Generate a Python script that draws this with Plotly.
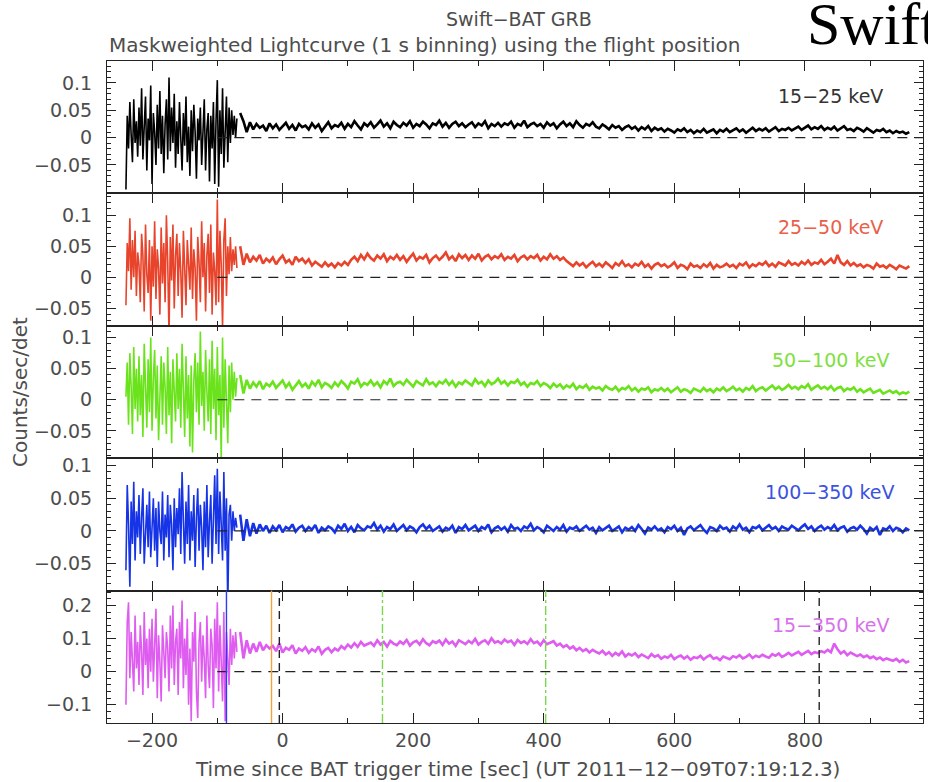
import numpy as np
import plotly.graph_objects as go
from plotly.subplots import make_subplots

# Time grid (s since BAT trigger): finer while the background is noisy, coarser afterwards
t_early = np.arange(-240, -69, 2)   # -240 ... -70
t_late = np.arange(-65, 961, 5)     # -65 ... 960

# Count rates in units of 1e-3 counts/sec/det
rate_15_25_early = [
    -95, 40, -20, 65, 5, -45, 70, -10, 30, -35,
    55, -15, 90, -40, 20, 75, -60, 35, -5, 95,
    -85, 45, 10, -50, 60, -20, 85, -30, 40, -65,
    25, 70, -40, 110, -25, 55, -10, 80, -55, 30,
    -30, 65, 0, -60, 45, -15, 75, -45, 20, -70,
    50, -25, 60, 10, -75, 35, -5, 55, -50, 25,
    70, -60, 15, 45, -80, 40, -20, 65, -85, 30,
    105, -90, 50, -30, 90, -55, 20, 75, -45, 55,
    -10, 50, 5, 40, 0, 35]
rate_15_25_late = [
    45, 30, 10, 28, 15, 25, 18, 22, 12, 26,
    17, 24, 14, 21, 27, 16, 23, 13, 25, 19,
    22, 15, 26, 18, 24, 12, 21, 28, 17, 23,
    20, 27, 16, 25, 19, 30, 22, 15, 26, 21,
    28, 18, 24, 31, 20, 26, 17, 29, 23, 19,
    27, 22, 30, 18, 25, 21, 29, 24, 17, 26,
    23, 31, 20, 27, 18, 25, 29, 21, 26, 19,
    24, 28, 19, 26, 22, 30, 17, 25, 21, 27,
    20, 26, 23, 29, 18, 25, 22, 31, 19, 24,
    27, 21, 25, 18, 28, 22, 26, 17, 24, 29,
    21, 26, 19, 30, 23, 18, 25, 22, 28, 20,
    17, 24, 20, 15, 23, 18, 21, 14, 19, 22,
    16, 20, 13, 19, 15, 21, 12, 18, 14, 17,
    11, 16, 13, 9, 15, 12, 17, 10, 14, 8,
    13, 10, 16, 9, 12, 15, 8, 14, 11, 16,
    10, 13, 17, 11, 15, 9, 14, 18, 12, 16,
    13, 17, 11, 15, 19, 12, 16, 14, 18, 13,
    17, 20, 14, 18, 22, 15, 19, 16, 21, 14,
    18, 15, 20, 13, 17, 21, 14, 16, 12, 18,
    15, 11, 17, 13, 9, 14, 12, 16, 10, 13,
    8, 12, 9, 11, 7, 10]

rate_25_50_early = [
    -45, 55, 10, 95, -20, 60, 0, 75, -30, 40,
    20, -40, 70, 35, -55, 85, 5, -25, 60, -70,
    50, -15, 90, -35, 45, 15, -60, 80, -10, 55,
    -40, 100, 25, -95, 65, -5, 85, -50, 35, 70,
    -30, 55, 10, -65, 75, 20, -45, 60, 5, -20,
    80, -35, 45, 15, -70, 65, 25, -40, 90, 0,
    55, -55, 35, 70, -25, 85, -60, 40, 10, -45,
    125, -40, 75, 20, -80, 60, 95, -30, 50, 5,
    65, 10, 45, 20, 50, 15]
rate_25_50_late = [
    50, 20, 38, 24, 33, 27, 36, 22, 30, 25,
    32, 21, 29, 35, 24, 28, 20, 33, 26, 30,
    23, 29, 19, 25, 21, 17, 24, 18, 22, 16,
    23, 19, 25, 20, 28, 33, 26, 36, 29, 38,
    31, 27, 35, 30, 37, 26, 33, 29, 36, 28,
    34, 25, 32, 38, 27, 33, 30, 36, 24, 31,
    35, 28, 33, 40, 29, 34, 26, 37, 31, 36,
    28, 35, 30, 38, 27, 33, 36, 29, 34, 31,
    37, 28, 33, 30, 36, 26, 32, 35, 29, 34,
    31, 36, 27, 33, 29, 37, 30, 34, 28, 32,
    26, 22, 18, 24, 19, 23, 16, 21, 25, 18,
    22, 17, 24, 20, 15, 23, 19, 26, 18, 21,
    16, 22, 19, 25, 17, 21, 14, 20, 23, 18,
    21, 16, 19, 24, 15, 20, 18, 13, 22, 17,
    19, 15, 21, 17, 23, 14, 20, 16, 18, 22,
    17, 20, 15, 22, 19, 24, 16, 21, 18, 23,
    20, 25, 18, 22, 17, 24, 21, 19, 26, 20,
    23, 19, 25, 21, 27, 20, 24, 22, 28, 21,
    25, 30, 22, 36, 24, 20, 26, 19, 23, 18,
    21, 16, 20, 18, 14, 22, 17, 19, 15, 20,
    17, 13, 19, 16, 14, 18]

rate_50_100_early = [
    5, 60, -40, 75, 20, -55, 85, -15, 50, -35,
    70, -25, 40, -60, 90, 10, -45, 65, -20, 100,
    -50, 35, 80, -30, 55, -65, 15, 70, -40, 60,
    20, -55, 85, -25, 45, -70, 65, 5, -35, 75,
    -15, 50, -45, 90, 0, -60, 70, -30, 40, -75,
    55, -85, 30, 75, -20, 60, -40, 110, -10, 45,
    -50, 80, 15, -35, 65, -55, 95, -15, 50, -65,
    85, -25, 40, -95, 100, -45, 65, 10, -70, 55,
    -20, 60, 0, 45, 5, 35]
rate_50_100_late = [
    40, 10, 32, 18, 28, 21, 30, 17, 26, 22,
    29, 19, 25, 31, 20, 27, 16, 24, 30, 21,
    26, 18, 29, 23, 32, 20, 27, 24, 19, 28,
    22, 30, 25, 18, 29, 26, 33, 21, 27, 24,
    31, 23, 28, 20, 30, 25, 34, 22, 27, 29,
    24, 32, 26, 21, 30, 27, 23, 33, 25, 28,
    22, 29, 26, 32, 24, 30, 21, 28, 25, 31,
    27, 23, 33, 26, 29, 22, 31, 25, 28, 34,
    26, 30, 23, 29, 27, 32, 24, 28, 21, 27,
    25, 30, 22, 27, 24, 19, 26, 21, 25, 18,
    23, 20, 26, 17, 22, 19, 24, 16, 21, 18,
    20, 15, 22, 18, 16, 21, 14, 19, 17, 22,
    15, 19, 13, 18, 16, 20, 12, 17, 15, 19,
    14, 18, 12, 16, 20, 13, 17, 15, 11, 18,
    16, 13, 19, 14, 17, 12, 18, 15, 20, 14,
    17, 21, 15, 18, 13, 19, 16, 22, 14, 18,
    20, 15, 19, 23, 17, 21, 16, 19, 24, 18,
    21, 17, 22, 19, 25, 16, 20, 23, 18, 21,
    17, 22, 15, 19, 21, 14, 18, 16, 20, 13,
    17, 12, 15, 18, 11, 14, 16, 10, 13, 15,
    11, 14, 9, 12, 10, 13]

rate_100_350_early = [
    -60, 70, 10, -85, 45, -20, 75, -45, 30, -10,
    55, -35, 20, 65, -50, 5, 40, -25, 60, -40,
    15, 50, -30, 35, -55, 45, 0, -20, 60, -45,
    25, -10, 55, -40, 40, 10, -60, 50, -25, 35,
    -5, 65, -35, 90, 15, -50, 45, -20, 70, -45,
    30, -15, 55, -55, 20, 65, -30, 40, 5, -60,
    45, -25, 70, -40, 15, 55, -50, 35, 85, -20,
    95, -35, 60, 10, -45, 90, -30, 50, -120, 25,
    40, -15, 30, 0, 20, 5]
rate_100_350_late = [
    25, -15, 18, -8, 12, -4, 10, 0, 8, -3,
    7, 1, 9, -2, 6, 3, 10, -1, 5, 8,
    0, 6, 2, 9, -3, 5, 1, 7, 4, -2,
    8, 3, 11, 0, 6, -2, 9, 4, 1, 7,
    5, 12, 2, 8, -1, 6, 3, 10, 0, 5,
    9, 1, 7, 4, -2, 6, 10, 3, 8, 0,
    4, 7, -1, 5, 2, 8, -3, 6, 3, 9,
    1, 5, 8, 0, 6, 3, 10, -2, 4, 7,
    2, 6, -1, 9, 3, 5, 0, 7, 4, 11,
    1, 6, 3, -2, 8, 4, 0, 6, 2, 9,
    -1, 5, 3, 7, 0, 4, 8, 2, 5, -3,
    6, 1, 4, 8, 0, 3, 7, -2, 5, 2,
    6, 0, 9, 3, -4, 5, 2, 7, 1, 4,
    -2, 6, 3, 8, 0, 5, -6, 4, 7, 1,
    5, 9, 2, -3, 6, 4, 0, 8, 3, 5,
    -1, 7, 3, 10, 2, 5, -2, 6, 4, 8,
    1, 5, 9, 3, 6, 0, 7, 4, 2, 8,
    5, 1, 6, 10, 3, 7, 0, 5, 8, 2,
    6, 3, 9, 1, 5, 7, -1, 4, 6, 2,
    8, 3, -4, 5, 1, 6, -6, 4, 2, 7,
    0, 5, 3, -2, 4, 1]

rate_15_350_early = [
    -100, 150, 210, -20, 120, 40, -60, 170, 10, 90,
    -40, 140, 60, -70, 180, 20, 100, -50, 130, 0,
    160, -30, 80, 190, -80, 110, 30, -90, 140, 50,
    -20, 120, 70, -60, 170, 10, 200, -40, 90, 130,
    -70, 150, 40, 215, -50, 100, -10, 160, -100, 70,
    -150, 120, 30, 180, -60, -140, 90, 150, -30, 110,
    40, -80, 170, 20, -50, 130, 80, -110, 160, 10,
    210, -60, 140, 30, -90, 180, -150, 120, 50, -40,
    130, 20, 110, 40, 120, 60]
rate_15_350_late = [
    120, 40, 95, 55, 85, 60, 90, 65, 80, 70,
    78, 62, 85, 58, 72, 66, 80, 55, 70, 63,
    74, 57, 68, 61, 76, 54, 66, 72, 59, 70,
    64, 77, 69, 82, 73, 86, 75, 90, 79, 84,
    88, 78, 95, 82, 90, 76, 93, 85, 80, 91,
    84, 96, 79, 89, 93, 82, 98, 86, 80, 92,
    87, 94, 81, 97, 85, 91, 78, 95, 88, 83,
    93, 86, 99, 82, 90, 95, 84, 101, 88, 92,
    85, 97, 89, 94, 81, 96, 87, 92, 84, 98,
    86, 91, 80, 95, 83, 88, 92, 79, 85, 74,
    80, 70, 76, 65, 72, 62, 68, 58, 66, 60,
    55, 63, 52, 59, 48, 57, 50, 61, 46, 54,
    49, 56, 44, 52, 47, 41, 53, 45, 50, 39,
    46, 42, 51, 38, 45, 49, 40, 47, 36, 44,
    41, 48, 37, 45, 50, 39, 43, 35, 46, 42,
    38, 47, 43, 50, 40, 45, 52, 41, 48, 44,
    51, 46, 42, 53, 48, 55, 45, 50, 57, 49,
    54, 60, 51, 57, 63, 53, 59, 56, 62, 58,
    66, 59, 85, 68, 55, 62, 50, 58, 53, 47,
    52, 44, 49, 41, 46, 38, 43, 35, 40, 37,
    33, 39, 30, 36, 28, 32]

band_labels = ["15−25 keV", "25−50 keV", "50−100 keV", "100−350 keV", "15−350 keV"]
band_colors = ["#000000", "#e8432b", "#6be31c", "#1633e6", "#df5cf0"]
label_colors = ["#333333", "#e8604a", "#7ee040", "#3c52e0", "#d870ec"]
early_rates = [rate_15_25_early, rate_25_50_early, rate_50_100_early,
               rate_100_350_early, rate_15_350_early]
late_rates = [rate_15_25_late, rate_25_50_late, rate_50_100_late,
              rate_100_350_late, rate_15_350_late]

y_ranges = [[-0.102, 0.14], [-0.078, 0.135], [-0.094, 0.119], [-0.091, 0.111], [-0.155, 0.245]]
y_ticks = [[-0.05, 0, 0.05, 0.1]] * 4 + [[-0.1, 0, 0.1, 0.2]]
y_tick_text = [["−0.05", "0", "0.05", "0.1"]] * 4 + [["−0.1", "0", "0.1", "0.2"]]
y_minor = [0.01, 0.01, 0.01, 0.01, 0.02]

x_range = [-269, 981]
x_ticks = [-200, 0, 200, 400, 600, 800]

# Markers drawn in the summed-band panel: (time, colour, dash)
event_lines = [
    (-86, "#2a3df0", "solid"),
    (-17, "#f2a040", "solid"),
    (-5, "#222222", "8px,5px"),
    (153, "#78d850", "dashdot"),
    (403, "#78d850", "dashdot"),
    (822, "#222222", "8px,5px"),
]
zero_line_start = -100

FONT = "DejaVu Sans"
TEXT_COLOR = "#4d4d4d"
AXIS_COLOR = "#222222"

W, H = 928, 782
L, R, T, B = 107, 5, 61, 59
plot_w = W - L - R
plot_h = H - T - B


def px_x(p):
    return (p - L) / plot_w


def px_y(p):
    return (H - B - p) / plot_h


fig = make_subplots(rows=5, cols=1, shared_xaxes=True, vertical_spacing=0)

for i in range(5):
    row = i + 1
    # noisy pre-burst background and the quieter stretch afterwards
    for t, vals, lw in ((t_early, early_rates[i], 1.6), (t_late, late_rates[i], 2.6)):
        fig.add_trace(
            go.Scatter(x=t, y=np.array(vals) / 1000.0, mode="lines",
                       line=dict(color=band_colors[i], width=lw),
                       showlegend=False, hoverinfo="skip"),
            row=row, col=1,
        )
    yname = "y" if row == 1 else f"y{row}"
    xname = "x" if row == 1 else f"x{row}"
    # dashed zero level
    fig.add_shape(type="line", xref=xname, yref=yname,
                  x0=zero_line_start, x1=x_range[1], y0=0, y1=0,
                  line=dict(color=AXIS_COLOR, width=1.2, dash="10px,7px"))
    fig.update_yaxes(
        range=y_ranges[i], tickmode="array", tickvals=y_ticks[i], ticktext=y_tick_text[i],
        ticks="inside", ticklen=9, tickwidth=1.2, tickcolor=AXIS_COLOR,
        minor=dict(ticks="inside", ticklen=4, tickwidth=1, tickcolor=AXIS_COLOR,
                   tickmode="linear", tick0=0, dtick=y_minor[i]),
        showline=True, linecolor=AXIS_COLOR, linewidth=1, mirror="allticks",
        showgrid=False, zeroline=False, ticklabelstandoff=10,
        tickfont=dict(family=FONT, size=19, color=TEXT_COLOR),
        row=row, col=1,
    )
    fig.update_xaxes(
        range=x_range, tickmode="array", tickvals=x_ticks,
        ticks="inside", ticklen=10, tickwidth=1.2, tickcolor=AXIS_COLOR,
        minor=dict(ticks="inside", ticklen=5, tickwidth=1, tickcolor=AXIS_COLOR,
                   tickmode="linear", tick0=0, dtick=100),
        showline=True, linecolor=AXIS_COLOR, linewidth=1, mirror="allticks",
        showgrid=False, zeroline=False, showticklabels=(row == 5),
        tickfont=dict(family=FONT, size=19, color=TEXT_COLOR),
        row=row, col=1,
    )
    # energy band label
    fig.add_annotation(
        xref="paper", yref="paper",
        x=px_x(830), y=px_y([96, 227, 360, 492, 625][i]),
        text=band_labels[i], showarrow=False, xanchor="center", yanchor="middle",
        font=dict(family=FONT, size=19, color=label_colors[i]),
    )

for t_ev, col, dash in event_lines:
    fig.add_shape(type="line", xref="x5", yref="y5 domain",
                  x0=t_ev, x1=t_ev, y0=0, y1=1,
                  line=dict(color=col, width=1.4, dash=dash))

fig.add_annotation(xref="paper", yref="paper", x=px_x(519), y=px_y(19),
                   text="Swift−BAT GRB", showarrow=False, xanchor="center", yanchor="middle",
                   font=dict(family=FONT, size=19, color=TEXT_COLOR))
fig.add_annotation(xref="paper", yref="paper", x=px_x(107), y=px_y(45),
                   text="Maskweighted Lightcurve (1 s binning) using the flight position",
                   showarrow=False, xanchor="left", yanchor="middle",
                   font=dict(family=FONT, size=20, color=TEXT_COLOR))
fig.add_annotation(xref="paper", yref="paper", x=px_x(805), y=px_y(24),
                   text="Swift", showarrow=False, xanchor="left", yanchor="middle",
                   font=dict(family="Liberation Serif", size=60, color="#000000"))
fig.add_annotation(xref="paper", yref="paper", x=px_x(20), y=px_y(392),
                   text="Counts/sec/det", showarrow=False, textangle=-90,
                   xanchor="center", yanchor="middle",
                   font=dict(family=FONT, size=20, color=TEXT_COLOR))
fig.add_annotation(xref="paper", yref="paper", x=px_x(517), y=px_y(769),
                   text="Time since BAT trigger time [sec] (UT 2011−12−09T07:19:12.3)",
                   showarrow=False, xanchor="center", yanchor="middle",
                   font=dict(family=FONT, size=20, color=TEXT_COLOR))

fig.update_layout(
    width=W, height=H,
    margin=dict(l=L, r=R, t=T, b=B, pad=0),
    paper_bgcolor="white", plot_bgcolor="white",
    showlegend=False,
)

fig.write_html("out.html")
